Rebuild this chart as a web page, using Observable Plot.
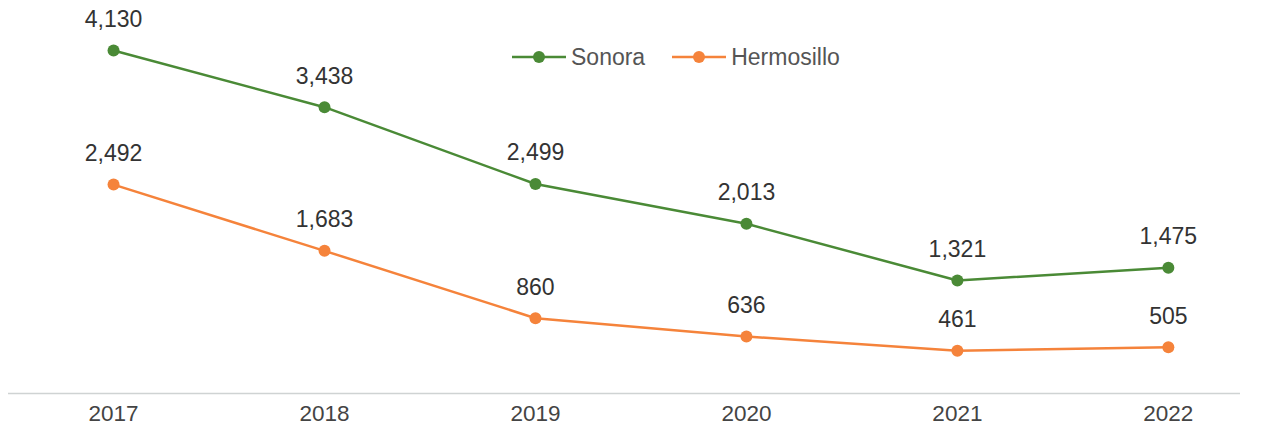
<!DOCTYPE html>
<html>
<head>
<meta charset="utf-8">
<script src="https://cdn.jsdelivr.net/npm/d3@7"></script>
<script src="https://cdn.jsdelivr.net/npm/@observablehq/plot@0.6"></script>
<style>
  html, body { margin: 0; padding: 0; background: #fff; }
  #wrap { position: relative; width: 1266px; height: 426px; font-family: "Liberation Sans", Arial, Helvetica, sans-serif; }
  #legend { position: absolute; top: 43px; left: 512px; display: flex; align-items: center; font-size: 23px; color: #555; line-height: 28px; }
  .item { display: flex; align-items: center; }
  .item svg { margin-right: 5px; }
</style>
</head>
<body>
<div id="wrap"><div id="legend"></div></div>
<script>
const years = [2017, 2018, 2019, 2020, 2021, 2022];
const sonora = [4130, 3438, 2499, 2013, 1321, 1475];
const hermosillo = [2492, 1683, 860, 636, 461, 505];
const seriesNames = ["Sonora", "Hermosillo"];
const seriesColors = ["#4a8a36", "#f5833b"];

const data = [
  ...years.map((y, i) => ({year: y, value: sonora[i], series: seriesNames[0]})),
  ...years.map((y, i) => ({year: y, value: hermosillo[i], series: seriesNames[1]}))
];

const color = {domain: seriesNames, range: seriesColors};
const fmt = d3.format(",");

const chart = Plot.plot({
  width: 1266,
  height: 426,
  marginTop: 20,
  marginBottom: 33,
  marginLeft: 8,
  marginRight: 26,
  style: {fontFamily: '"Liberation Sans", Arial, Helvetica, sans-serif', background: "#fff", overflow: "visible"},
  x: {domain: [2017 - 0.498, 2022 + 0.342], axis: null},
  y: {domain: [-60, 4497], axis: null},
  color,
  marks: [
    Plot.ruleY([-60], {stroke: "#cfd3d3", strokeWidth: 1.5}),
    Plot.axisX({ticks: years, tickFormat: d => String(d), tickSize: 0, tickPadding: 0, dy: 12, fontSize: 22.5, fill: "#444", anchor: "bottom", label: null}),
    Plot.line(data, {x: "year", y: "value", z: "series", stroke: "series", strokeWidth: 2.5}),
    Plot.dot(data, {x: "year", y: "value", fill: "series", r: 6, stroke: "none"}),
    Plot.text(data, {x: "year", y: "value", text: d => fmt(d.value), dy: -31, fontSize: 23, fill: "#333"})
  ]
});
document.getElementById("wrap").prepend(chart);
chart.style.position = "absolute";
chart.style.left = "0";
chart.style.top = "0";

const legend = document.getElementById("legend");
seriesNames.forEach((name, i) => {
  const item = document.createElement("div");
  item.className = "item";
  item.style.marginRight = i === 0 ? "27px" : "0";
  item.innerHTML = `<svg width="54" height="14"><line x1="0" y1="7" x2="54" y2="7" stroke="${seriesColors[i]}" stroke-width="2.5"/><circle cx="27" cy="7" r="6" fill="${seriesColors[i]}"/></svg><span>${name}</span>`;
  legend.appendChild(item);
});
</script>
</body>
</html>
